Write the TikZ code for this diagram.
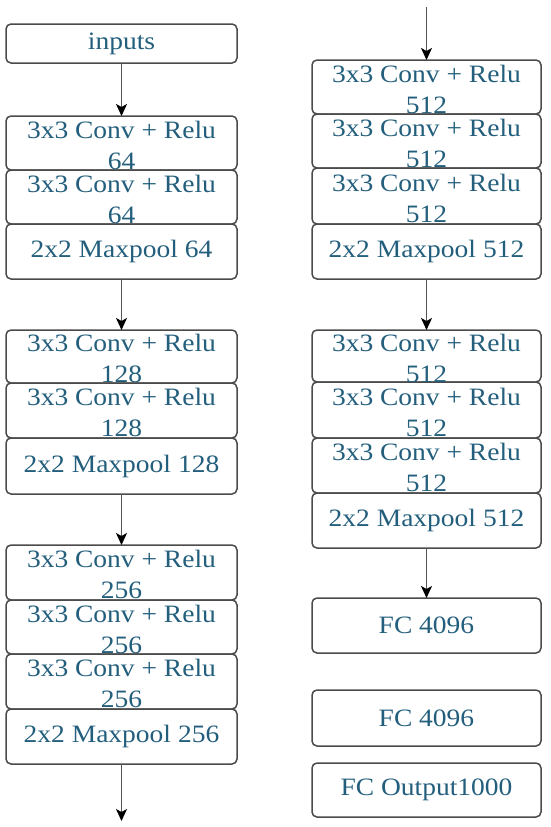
\documentclass[tikz,border=0pt]{standalone}
\usepackage{fontspec}
\setmainfont{Liberation Serif}[FakeStretch=1.1]
\usetikzlibrary{arrows.meta}
\definecolor{txt}{RGB}{35,95,125}
\definecolor{frame}{RGB}{75,75,75}
\definecolor{linec}{RGB}{85,85,85}
\begin{document}
\begin{tikzpicture}[x=1pt,y=-1pt,
  bx/.style={draw=frame,line width=1.5pt,rounded corners=5pt,fill=white,inner sep=0pt,outer sep=0pt},
  lbox/.style={bx,minimum width=231pt},
  rbox/.style={bx,minimum width=229pt},
  lbl/.style={text=txt,align=center,inner sep=0pt,font=\fontsize{25}{31}\selectfont},
  arr/.style={draw=linec,line width=1.5pt,-{Stealth[length=12pt,width=11pt,inset=3pt,color=black]}}
]
\useasboundingbox (0,0) rectangle (550,827);
% ---------- left column boxes ----------
\node[lbox,minimum height=39pt] (in) at (121.5,43.5) {};
\node[lbox,minimum height=54pt] (a1) at (121.5,143) {};
\node[lbox,minimum height=54pt] (a2) at (121.5,197) {};
\node[lbox,minimum height=55pt] (a3) at (121.5,251.5) {};
\node[lbox,minimum height=53pt] (b1) at (121.5,356.5) {};
\node[lbox,minimum height=55pt] (b2) at (121.5,410.5) {};
\node[lbox,minimum height=56pt] (b3) at (121.5,466) {};
\node[lbox,minimum height=55pt] (c1) at (121.5,572.5) {};
\node[lbox,minimum height=54pt] (c2) at (121.5,627) {};
\node[lbox,minimum height=55pt] (c3) at (121.5,681.5) {};
\node[lbox,minimum height=55pt] (c4) at (121.5,736.5) {};
\coordinate (lout) at (121.5,821);
% ---------- right column boxes ----------
\coordinate (rin) at (426.5,7);
\node[rbox,minimum height=54pt] (d1) at (426.5,87) {};
\node[rbox,minimum height=54pt] (d2) at (426.5,141) {};
\node[rbox,minimum height=56pt] (d3) at (426.5,196) {};
\node[rbox,minimum height=55pt] (d4) at (426.5,251.5) {};
\node[rbox,minimum height=52pt] (e1) at (426.5,356) {};
\node[rbox,minimum height=56pt] (e2) at (426.5,410) {};
\node[rbox,minimum height=55pt] (e3) at (426.5,465.5) {};
\node[rbox,minimum height=55pt] (e4) at (426.5,520.5) {};
\node[rbox,minimum height=55pt] (f1) at (426.5,625.5) {};
\node[rbox,minimum height=56pt] (f2) at (426.5,718) {};
\node[rbox,minimum height=54pt] (f3) at (426.5,790) {};
% ---------- labels ----------
\node[lbl] (tin) at (in.center) {inputs};
\node[lbl] (ta1) at ([yshift=-2pt]a1.center) {3x3 Conv + Relu\\64};
\node[lbl] (ta2) at ([yshift=-2pt]a2.center) {3x3 Conv + Relu\\64};
\node[lbl] (ta3) at (a3.center) {2x2 Maxpool 64};
\node[lbl] (tb1) at ([yshift=-2pt]b1.center) {3x3 Conv + Relu\\128};
\node[lbl] (tb2) at ([yshift=-2pt]b2.center) {3x3 Conv + Relu\\128};
\node[lbl] (tb3) at (b3.center) {2x2 Maxpool 128};
\node[lbl] (tc1) at ([yshift=-2pt]c1.center) {3x3 Conv + Relu\\256};
\node[lbl] (tc2) at ([yshift=-2pt]c2.center) {3x3 Conv + Relu\\256};
\node[lbl] (tc3) at ([yshift=-2pt]c3.center) {3x3 Conv + Relu\\256};
\node[lbl] (tc4) at (c4.center) {2x2 Maxpool 256};
\node[lbl] (td1) at ([yshift=-2pt]d1.center) {3x3 Conv + Relu\\512};
\node[lbl] (td2) at ([yshift=-2pt]d2.center) {3x3 Conv + Relu\\512};
\node[lbl] (td3) at ([yshift=-2pt]d3.center) {3x3 Conv + Relu\\512};
\node[lbl] (td4) at (d4.center) {2x2 Maxpool 512};
\node[lbl] (te1) at ([yshift=-2pt]e1.center) {3x3 Conv + Relu\\512};
\node[lbl] (te2) at ([yshift=-2pt]e2.center) {3x3 Conv + Relu\\512};
\node[lbl] (te3) at ([yshift=-2pt]e3.center) {3x3 Conv + Relu\\512};
\node[lbl] (te4) at (e4.center) {2x2 Maxpool 512};
\node[lbl] (tf1) at (f1.center) {FC 4096};
\node[lbl] (tf2) at (f2.center) {FC 4096};
\node[lbl] (tf3) at (f3.center) {FC Output1000};
% ---------- arrows ----------
\draw[arr] (in.south) -- (a1.north);
\draw[arr] (a3.south) -- (b1.north);
\draw[arr] (b3.south) -- (c1.north);
\draw[arr] (c4.south) -- (lout);
\draw[arr] (rin) -- (d1.north);
\draw[arr] (d4.south) -- (e1.north);
\draw[arr] (e4.south) -- (f1.north);
\end{tikzpicture}
\end{document}
